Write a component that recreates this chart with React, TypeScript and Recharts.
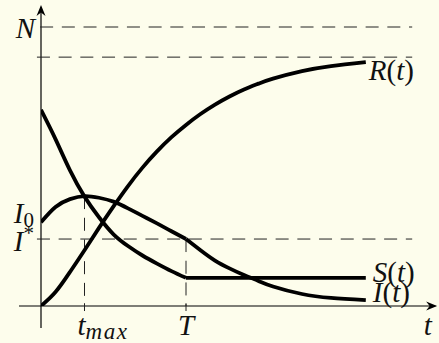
import { LineChart, Line, XAxis, YAxis, ReferenceLine, ReferenceDot } from 'recharts';

// model constants (population normalised so N = 1)
const N_TOTAL = 1;
const R_LIMIT = 0.892;
const I_ZERO = 0.3;
const I_STAR = 0.24;
const T_MAX = 1.5;
const T_SWITCH = 5;
const T_END = 11.2;

// before the switch time T
const timesEarly = [0, 0.5, 1, 1.5, 2, 2.5, 3, 3.5, 4, 4.5, 5];
const susceptibleEarly = [0.703, 0.598, 0.486, 0.392, 0.318, 0.257, 0.215, 0.181, 0.152, 0.125, 0.101];
const infectedEarly = [0.3, 0.355, 0.383, 0.394, 0.388, 0.374, 0.35, 0.323, 0.296, 0.268, 0.24];

// after the switch time T
const timesLate = [5, 5.5, 6, 6.5, 7, 7.5, 8, 9, 10, 11.2];
const infectedLate = [0.24, 0.2, 0.163, 0.135, 0.111, 0.09, 0.07, 0.043, 0.029, 0.021];
const susceptibleLateTimes = [5, 11.2];
const susceptibleLate = [0.101, 0.101];

const recoveredTimes = [0, 0.5, 1, 1.5, 2, 2.5, 3, 3.5, 4, 4.5, 5, 5.5, 6, 6.5, 7, 7.5, 8, 9, 10, 11.2];
const recovered = [0, 0.05, 0.122, 0.2, 0.28, 0.357, 0.43, 0.496, 0.554, 0.605, 0.649, 0.688, 0.722, 0.751, 0.776, 0.797, 0.815, 0.842, 0.86, 0.874];

const zip = (ts: number[], vs: number[]) => ts.map((t, i) => ({ t, v: vs[i] }));

const BG = '#fdfdec';
const FONT = '"Liberation Serif", "Times New Roman", serif';
const DASH = '13 8.7';
const FS = 29;
const FS_SMALL = 21;

const curve = {
  dataKey: 'v',
  stroke: '#000',
  strokeWidth: 3.8,
  dot: false,
  activeDot: false,
  isAnimationActive: false,
};

const dashed = { stroke: '#222', strokeWidth: 1, strokeDasharray: DASH, ifOverflow: 'visible' as const };

type Part = { s: string; italic?: boolean; sub?: boolean; sup?: boolean; size?: number; spacing?: number };

// text placed at a data point, shifted by dx/dy pixels
const mathText = (parts: Part[], dx: number, dy: number, anchor = 'start') => (p: any) => (
  <text
    x={p.cx + dx}
    y={p.cy + dy}
    textAnchor={anchor}
    fontSize={FS}
    fill="#111"
    style={{ fontFamily: FONT }}
  >
    {parts.map((q, i) => (
      <tspan
        key={i}
        style={{
          fontFamily: FONT,
          fontStyle: q.italic ? 'italic' : 'normal',
          fontSize: q.size ?? (q.sub || q.sup ? FS_SMALL : FS),
          letterSpacing: q.spacing ?? 0,
        }}
        dy={q.sub ? 4 : q.sup ? -11 : i > 0 && (parts[i - 1].sub || parts[i - 1].sup) ? (parts[i - 1].sub ? -4 : 11) : 0}
      >
        {q.s}
      </tspan>
    ))}
  </text>
);

const arrow = (dir: 'right' | 'up') => (p: any) => (
  <path
    d="M 0 0 L -11 -4.5 L -7.5 0 L -11 4.5 Z"
    fill="#000"
    transform={`translate(${p.cx},${p.cy}) rotate(${dir === 'up' ? -90 : 0})`}
  />
);

const dotProps = { r: 0, ifOverflow: 'visible' as const };

export default function App() {
  return (
    <div style={{ position: 'absolute', left: 0, top: 0, width: 439, height: 343, background: BG }}>
      <LineChart width={439} height={343} margin={{ top: 27, right: 21, bottom: 37, left: 41 }}>
        <XAxis type="number" dataKey="t" domain={[0, 13]} hide allowDataOverflow />
        <YAxis type="number" domain={[0, 1]} hide allowDataOverflow />

        {/* axes */}
        <ReferenceLine segment={[{ x: -0.76, y: 0 }, { x: 13.6, y: 0 }]} stroke="#000" strokeWidth={1.2} ifOverflow="visible" />
        <ReferenceLine segment={[{ x: 0, y: -0.079 }, { x: 0, y: 1.06 }]} stroke="#000" strokeWidth={1.2} ifOverflow="visible" />
        <ReferenceDot x={13.66} y={0} {...dotProps} shape={arrow('right')} />
        <ReferenceDot x={0} y={1.079} {...dotProps} shape={arrow('up')} />

        {/* guide lines */}
        <ReferenceLine segment={[{ x: -0.03, y: N_TOTAL }, { x: 12.8, y: N_TOTAL }]} {...dashed} />
        <ReferenceLine segment={[{ x: -0.14, y: R_LIMIT }, { x: 12.8, y: R_LIMIT }]} {...dashed} />
        <ReferenceLine segment={[{ x: -0.14, y: I_STAR }, { x: 12.8, y: I_STAR }]} {...dashed} />
        <ReferenceLine segment={[{ x: T_MAX, y: 0.394 }, { x: T_MAX, y: 0 }]} {...dashed} />
        <ReferenceLine segment={[{ x: T_SWITCH, y: I_STAR }, { x: T_SWITCH, y: 0 }]} {...dashed} />
        <ReferenceLine segment={[{ x: T_MAX, y: 0.01 }, { x: T_MAX, y: -0.018 }]} stroke="#222" strokeWidth={1} ifOverflow="visible" />
        <ReferenceLine segment={[{ x: T_SWITCH, y: 0.01 }, { x: T_SWITCH, y: -0.018 }]} stroke="#222" strokeWidth={1} ifOverflow="visible" />

        <Line {...curve} type="natural" data={zip(recoveredTimes, recovered)} />
        <Line {...curve} type="natural" data={zip(timesEarly, susceptibleEarly)} />
        <Line {...curve} type="linear" data={zip(susceptibleLateTimes, susceptibleLate)} />
        <Line {...curve} type="natural" data={zip(timesEarly, infectedEarly)} />
        <Line {...curve} type="natural" data={zip(timesLate, infectedLate)} />

        {/* axis labels */}
        <ReferenceDot x={0} y={N_TOTAL} {...dotProps} shape={mathText([{ s: 'N', italic: true }], -6, 11, 'end')} />
        <ReferenceDot x={0} y={I_ZERO} {...dotProps} shape={mathText([{ s: 'I', italic: true }, { s: '0', sub: true }], -7, 1, 'end')} />
        <ReferenceDot x={0} y={I_STAR} {...dotProps} shape={mathText([{ s: 'I', italic: true }, { s: '*', sup: true }], -7, 12, 'end')} />
        <ReferenceDot x={T_MAX} y={0} {...dotProps} shape={mathText([{ s: 't', italic: true }, { s: 'max', italic: true, sub: true, size: 23, spacing: 1.5 }], -7, 29)} />
        <ReferenceDot x={T_SWITCH} y={0} {...dotProps} shape={mathText([{ s: 'T', italic: true }], 0, 29, 'middle')} />
        <ReferenceDot x={13.2} y={0} {...dotProps} shape={mathText([{ s: 't', italic: true }], 0, 29)} />

        {/* curve labels */}
        <ReferenceDot x={T_END} y={0.874} {...dotProps} shape={mathText([{ s: 'R', italic: true }, { s: '(' }, { s: 't', italic: true }, { s: ')' }], 3, 18)} />
        <ReferenceDot x={T_END} y={0.101} {...dotProps} shape={mathText([{ s: 'S', italic: true }, { s: '(' }, { s: 't', italic: true }, { s: ')' }], 7, 4)} />
        <ReferenceDot x={T_END} y={0.021} {...dotProps} shape={mathText([{ s: 'I', italic: true }, { s: '(' }, { s: 't', italic: true }, { s: ')' }], 7, 2)} />
      </LineChart>
    </div>
  );
}
